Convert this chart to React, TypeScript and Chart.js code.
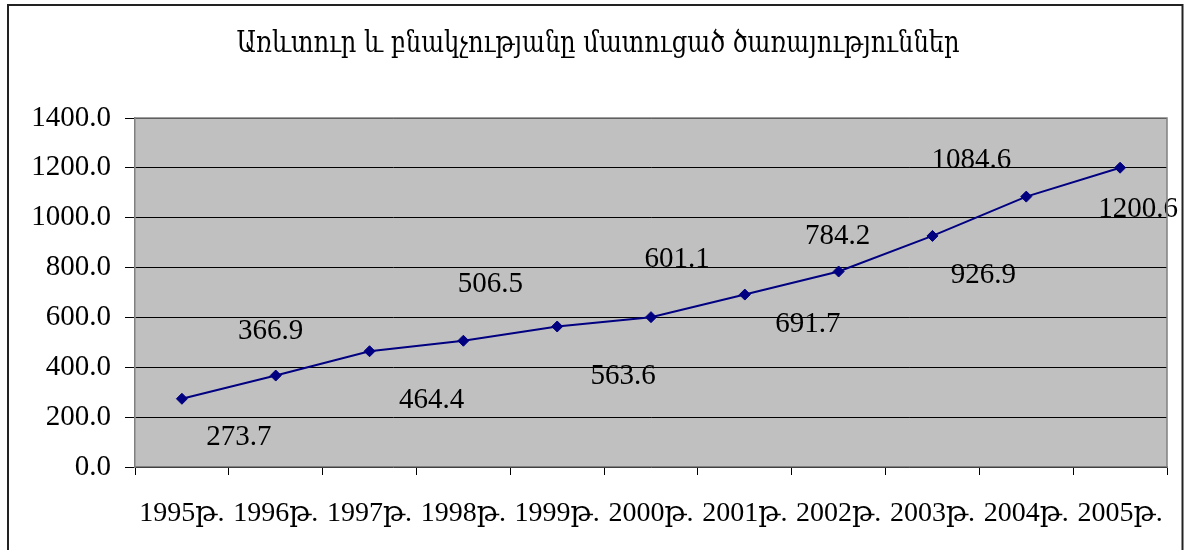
import React, { useEffect, useRef } from "react";
import { Chart, registerables } from "chart.js";

Chart.register(...registerables);

const TITLE = "Առևտուր և բնակչությանը մատուցած ծառայություններ";
const categories = [
  "1995թ.", "1996թ.", "1997թ.", "1998թ.", "1999թ.", "2000թ.",
  "2001թ.", "2002թ.", "2003թ.", "2004թ.", "2005թ.",
];
const values = [273.7, 366.9, 464.4, 506.5, 563.6, 601.1, 691.7, 784.2, 926.9, 1084.6, 1200.6];
const yTicksMin = 0;
const yTicksMax = 1400;
const yTickStep = 200;

// label placement offsets (pixels, relative to each point)
const labelOffsets: [number, number][] = [
  [57, 39], [-5, -44], [62, 49], [27, -56], [66, 50], [26, -58],
  [63, 30], [-1, -35], [51, 39], [-55, -36], [18, 42],
];

const SERIF = "'Liberation Serif', 'Times New Roman', 'DejaVu Serif', serif";

const decorPlugin = {
  id: "decor",
  beforeDraw(chart: any) {
    const { ctx, chartArea } = chart;
    ctx.save();
    ctx.fillStyle = "#ffffff";
    ctx.fillRect(0, 0, chart.width, chart.height);
    ctx.fillStyle = "#C0C0C0";
    ctx.fillRect(chartArea.left, chartArea.top, chartArea.right - chartArea.left, chartArea.bottom - chartArea.top);
    ctx.restore();
  },
  afterDraw(chart: any) {
    const { ctx, chartArea } = chart;
    ctx.save();
    // plot border (top & right)
    ctx.strokeStyle = "#808080";
    ctx.lineWidth = 1.5;
    ctx.beginPath();
    ctx.moveTo(chartArea.left, chartArea.top);
    ctx.lineTo(chartArea.right, chartArea.top);
    ctx.lineTo(chartArea.right, chartArea.bottom);
    ctx.stroke();
    // outer frame
    ctx.strokeStyle = "#222222";
    ctx.lineWidth = 2;
    ctx.strokeRect(8, 5, 1174.5, 700);
    // title
    ctx.font = "30px 'DejaVu Serif', serif";
    ctx.fillStyle = "#000";
    ctx.textBaseline = "middle";
    ctx.textAlign = "center";
    const w = ctx.measureText(TITLE).width;
    const target = 723;
    const sx = target / w;
    ctx.translate(598, 44);
    ctx.scale(sx, 1);
    ctx.fillText(TITLE, 0, 0);
    ctx.restore();
  },
  afterDatasetsDraw(chart: any) {
    const { ctx } = chart;
    const meta = chart.getDatasetMeta(0);
    ctx.save();
    ctx.font = "29px " + SERIF;
    ctx.fillStyle = "#000";
    ctx.textAlign = "center";
    ctx.textBaseline = "middle";
    meta.data.forEach((pt: any, i: number) => {
      const [dx, dy] = labelOffsets[i] || [0, -20];
      ctx.fillText(values[i].toFixed(1), pt.x + dx, pt.y + dy);
    });
    ctx.restore();
  },
};

export default function App() {
  const ref = useRef<HTMLCanvasElement | null>(null);
  useEffect(() => {
    if (!ref.current) return;
    const chart = new Chart(ref.current, {
      type: "line",
      data: {
        labels: categories,
        datasets: [
          {
            data: values,
            borderColor: "#000080",
            borderWidth: 2,
            pointStyle: "rectRot",
            pointRadius: 5.5,
            pointBackgroundColor: "#000080",
            pointBorderColor: "#000080",
            pointBorderWidth: 1,
            tension: 0,
            fill: false,
          },
        ],
      },
      options: {
        animation: false,
        responsive: false,
        maintainAspectRatio: false,
        layout: { padding: { top: 118, right: 23, bottom: 0, left: 0 } },
        plugins: {
          legend: { display: false },
          title: { display: false },
          tooltip: { enabled: false },
        },
        scales: {
          x: {
            type: "category",
            offset: true,
            afterFit(axis: any) {
              axis.height = 83;
            },
            grid: {
              offset: true,
              drawOnChartArea: false,
              drawTicks: true,
              tickLength: 8,
              tickColor: "#000",
            },
            border: { color: "#808080", width: 1.5 },
            ticks: {
              color: "#000",
              font: { family: SERIF, size: 28 },
              padding: 22,
              autoSkip: false,
              maxRotation: 0,
              minRotation: 0,
            },
          },
          y: {
            min: yTicksMin,
            max: yTicksMax,
            afterFit(axis: any) {
              axis.width = 135;
            },
            grid: {
              color: "#000",
              lineWidth: 1,
              drawTicks: true,
              tickLength: 10,
              tickColor: "#000",
            },
            border: { color: "#808080", width: 1.5 },
            ticks: {
              stepSize: yTickStep,
              color: "#000",
              font: { family: SERIF, size: 29 },
              padding: 14,
              callback: (v: any) => Number(v).toFixed(1),
            },
          },
        },
      },
      plugins: [decorPlugin],
    });
    return () => chart.destroy();
  }, []);
  return (
    <div style={{ position: "fixed", left: 0, top: 0, width: 1190, height: 550 }}>
      <canvas ref={ref} width={1190} height={550} style={{ width: 1190, height: 550, display: "block" }} />
    </div>
  );
}
